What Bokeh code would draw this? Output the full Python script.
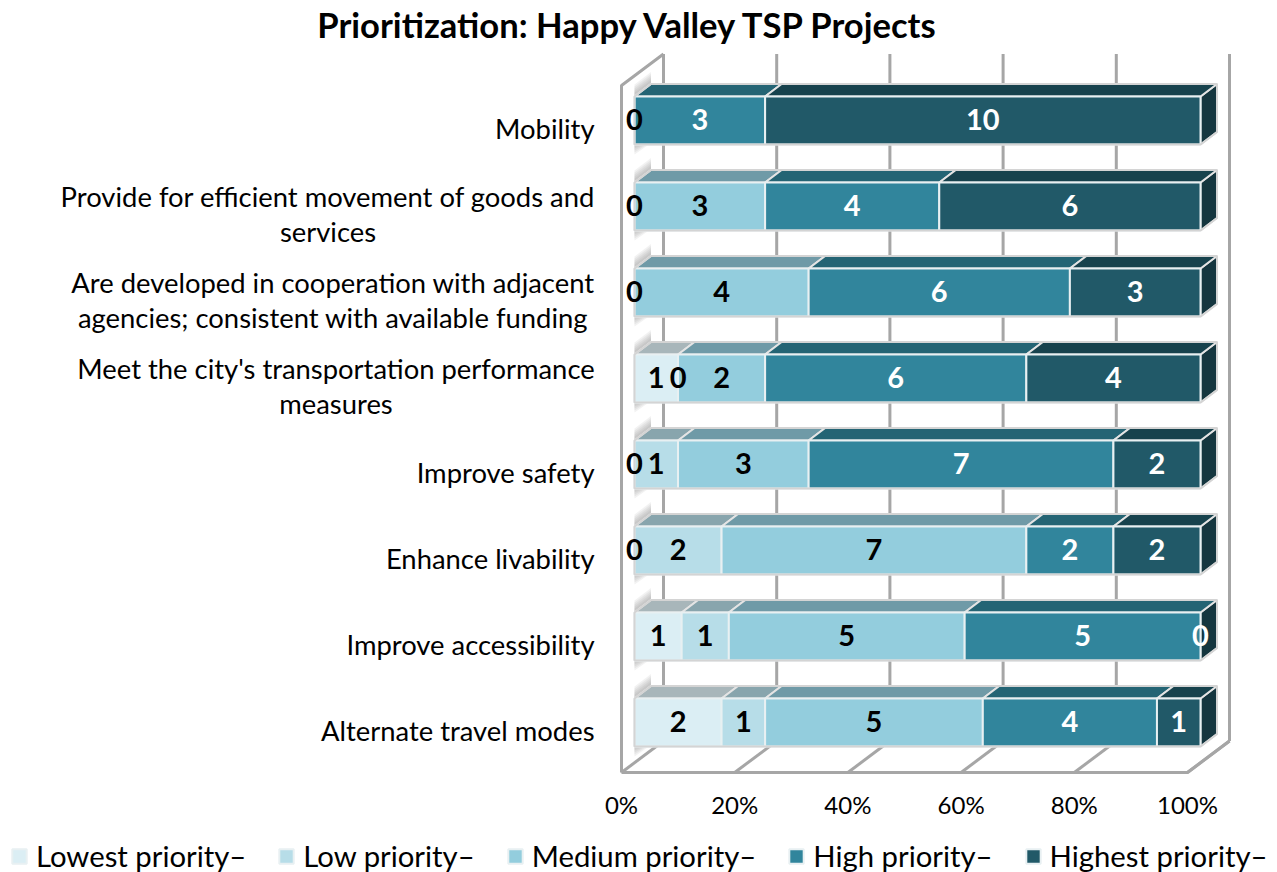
from bokeh.plotting import figure
from bokeh.models import ColumnDataSource, LinearAxis, FixedTicker, PrintfTickFormatter, Range1d, Legend, LegendItem
from bokeh.core.properties import value
from bokeh.embed import file_html
from bokeh.resources import INLINE

TITLE = "Prioritization: Happy Valley TSP Projects"
FONT = "Lato"

series_names = ["Lowest priority–", "Low priority–", "Medium priority–", "High priority–", "Highest priority–"]
front_colors = ["#DBEEF4", "#B7DDE8", "#93CDDD", "#31859C", "#215968"]
top_colors = ["#A8B6BA", "#88A5AD", "#6F9AA7", "#246474", "#17424D"]
side_color = "#15363F"
label_colors = ["black", "black", "black", "white", "white"]

# top row first; None = the series shows no label in that row
categories = [
    ["Mobility"],
    ["Provide for efficient movement of goods and", "services"],
    ["Are developed in cooperation with adjacent", "agencies; consistent with available funding"],
    ["Meet the city's transportation performance", "measures"],
    ["Improve safety"],
    ["Enhance livability"],
    ["Improve accessibility"],
    ["Alternate travel modes"],
]
lowest  = [None, None, None, 1, 0, 0, 1, 2]
low     = [None, 0, 0, 0, 1, 2, 1, 1]
medium  = [0, 3, 4, 2, 3, 7, 5, 5]
high    = [3, 4, 6, 6, 7, 2, 5, 4]
highest = [10, 6, 3, 4, 2, 2, 0, 1]
tick_values = [0, 20, 40, 60, 80, 100]

# ---- geometry, in data units (x: percent, y: rows)
PX_X, PX_Y = 5.66, 86.0
ORIGIN_X, ORIGIN_Y = 621.0, 722.0      # page pixel of 0 % / of the bottom row's centre
def dx(px): return px / PX_X
def dy(px): return px / PX_Y
BAR_OFF = dx(13); BAR_H = dy(24)
D_X, D_Y = dx(16.5), dy(12.5)
WALL_X, WALL_Y = dx(42), dy(31.5)
FLOOR = dy(-50); WALL_TOP = dy(637)

p = figure(width=1277, height=872, min_border=0,
           x_axis_type=None, y_axis_type=None, toolbar_location=None,
           output_backend="svg", outline_line_color=None,
           x_range=Range1d(-ORIGIN_X / PX_X, (1277 - ORIGIN_X) / PX_X),
           y_range=Range1d((ORIGIN_Y - 872) / PX_Y, ORIGIN_Y / PX_Y))
p.background_fill_color = "white"
p.border_fill_color = "white"

# ---- walls and gridlines
WALL = "#A6A6A6"
grid_x = [[t + WALL_X, t + WALL_X] for t in tick_values]
grid_y = [[FLOOR + WALL_Y, WALL_TOP + WALL_Y] for t in tick_values]
p.multi_line(grid_x, grid_y, line_color=WALL, line_width=3)
p.multi_line([[t, t + WALL_X] for t in tick_values], [[FLOOR, FLOOR + WALL_Y] for t in tick_values],
             line_color=WALL, line_width=3)
p.line([0, 0, WALL_X], [FLOOR, WALL_TOP, WALL_TOP + WALL_Y], line_color=WALL, line_width=3)
p.line([0, 100, 100 + WALL_X], [FLOOR, FLOOR, FLOOR + WALL_Y], line_color=WALL, line_width=3)

# ---- bars
all_series = [lowest, low, medium, high, highest]
n = len(categories)
seg = {i: dict(l=[], r=[], t=[], b=[]) for i in range(5)}
tops = {i: dict(xs=[], ys=[]) for i in range(5)}
labels = {i: dict(x=[], y=[], text=[]) for i in range(5)}
side = dict(xs=[], ys=[]); shadow = dict(xs=[], ys=[]); outline = dict(xs=[], ys=[])

for r in range(n):
    y = n - 1 - r
    vals = [s[r] for s in all_series]
    total = sum(v for v in vals if v is not None)
    cum = 0.0
    left = BAR_OFF
    b, t = y - BAR_H, y + BAR_H
    # soft shadow on the left wall
    for k in range(5):
        sh = dy(2 * k)
        shadow["xs"].append([left, left + D_X, left + D_X, left])
        shadow["ys"].append([t + dy(1), t + D_Y + dy(1), t + D_Y + dy(4) + sh, t + dy(4) + sh])
        shadow["xs"].append([left, left + dx(13 - 2 * k), left])
        shadow["ys"].append([b - dy(1), b - dy(1), b - dy(10 - 2 * k)])
    for i, v in enumerate(vals):
        if v is None:
            continue
        x0 = BAR_OFF + cum / total * 100
        cum += v
        x1 = BAR_OFF + cum / total * 100
        labels[i]["x"].append((x0 + x1) / 2)
        labels[i]["y"].append(y + dy(1))
        labels[i]["text"].append(str(v))
        if v == 0:
            continue
        seg[i]["l"].append(x0); seg[i]["r"].append(x1); seg[i]["t"].append(t); seg[i]["b"].append(b)
        tops[i]["xs"].append([x0, x0 + D_X, x1 + D_X, x1])
        tops[i]["ys"].append([t, t + D_Y, t + D_Y, t])
    end = BAR_OFF + 100
    side["xs"].append([end, end + D_X, end + D_X, end])
    side["ys"].append([b, b + D_Y, t + D_Y, t])
    outline["xs"].append([left, left + D_X, end + D_X, end + D_X, end, left])
    outline["ys"].append([t, t + D_Y, t + D_Y, b + D_Y, b, b])

p.patches("xs", "ys", source=ColumnDataSource(shadow), fill_color="#7F7F7F", fill_alpha=0.1, line_color=None)
p.patches("xs", "ys", source=ColumnDataSource(side), fill_color=side_color, line_color="#D9D9D9", line_width=2)
for i in range(5):
    p.patches("xs", "ys", source=ColumnDataSource(tops[i]), fill_color=top_colors[i], line_color="#E4E4E4", line_width=2)
swatches = []
for i in range(5):
    rr = p.quad(left="l", right="r", top="t", bottom="b", source=ColumnDataSource(seg[i]),
                fill_color=front_colors[i], line_color="#E8F0F2", line_width=2)
    swatches.append(rr)
p.patches("xs", "ys", source=ColumnDataSource(outline), fill_color=None, line_color="#D4D4D4", line_width=2)

for i in range(5):
    p.text("x", "y", "text", source=ColumnDataSource(labels[i]), text_color=label_colors[i],
           text_font=value(FONT), text_font_style="bold", text_font_size="29px",
           text_align="center", text_baseline="middle")

# ---- category labels
LABEL_RIGHT = (594 - ORIGIN_X) / PX_X
block_width = {1: 533, 2: 523, 3: 517}
one = dict(x=[], y=[], text=[]); two = dict(x=[], y=[], text=[])
for r, lines in enumerate(categories):
    yc = n - 1 - r - dy(7.5)
    if len(lines) == 1:
        one["x"].append(LABEL_RIGHT); one["y"].append(yc); one["text"].append(lines[0])
    else:
        cx = LABEL_RIGHT - dx(block_width[r] / 2)
        for j, s in enumerate(lines):
            two["x"].append(cx); two["y"].append(yc + dy(17.5) * (1 - 2 * j)); two["text"].append(s)
cat_font = dict(text_font=value(FONT), text_font_size="27.4px", text_color="black", text_baseline="middle")
p.text("x", "y", "text", source=ColumnDataSource(one), text_align="right", **cat_font)
p.text("x", "y", "text", source=ColumnDataSource(two), text_align="center", **cat_font)

# ---- title
p.text([dx(7.5)], [dy(722 - 24)], [TITLE], text_font=value(FONT), text_font_style="bold",
       text_font_size="34.6px", text_color="black", text_align="center", text_baseline="middle")

# ---- percent axis
axis = LinearAxis(fixed_location=FLOOR, ticker=FixedTicker(ticks=tick_values),
                  formatter=PrintfTickFormatter(format="%d%%"),
                  axis_line_color=None, major_tick_line_color=None, minor_tick_line_color=None,
                  major_label_text_font=FONT, major_label_text_font_size="24px",
                  major_label_text_color="black", major_label_standoff=11)
p.add_layout(axis, "below")

# ---- legend
legend = Legend(items=[LegendItem(label=series_names[i], renderers=[swatches[i]]) for i in range(5)],
                orientation="horizontal", location=(10, -1), border_line_color=None,
                background_fill_alpha=0, padding=0, margin=0, spacing=31, glyph_width=18, glyph_height=18,
                label_standoff=8, label_text_font=FONT, label_text_font_size="29.3px", label_text_color="black")
p.add_layout(legend)

open("out.html", "w").write(file_html(p, INLINE))
